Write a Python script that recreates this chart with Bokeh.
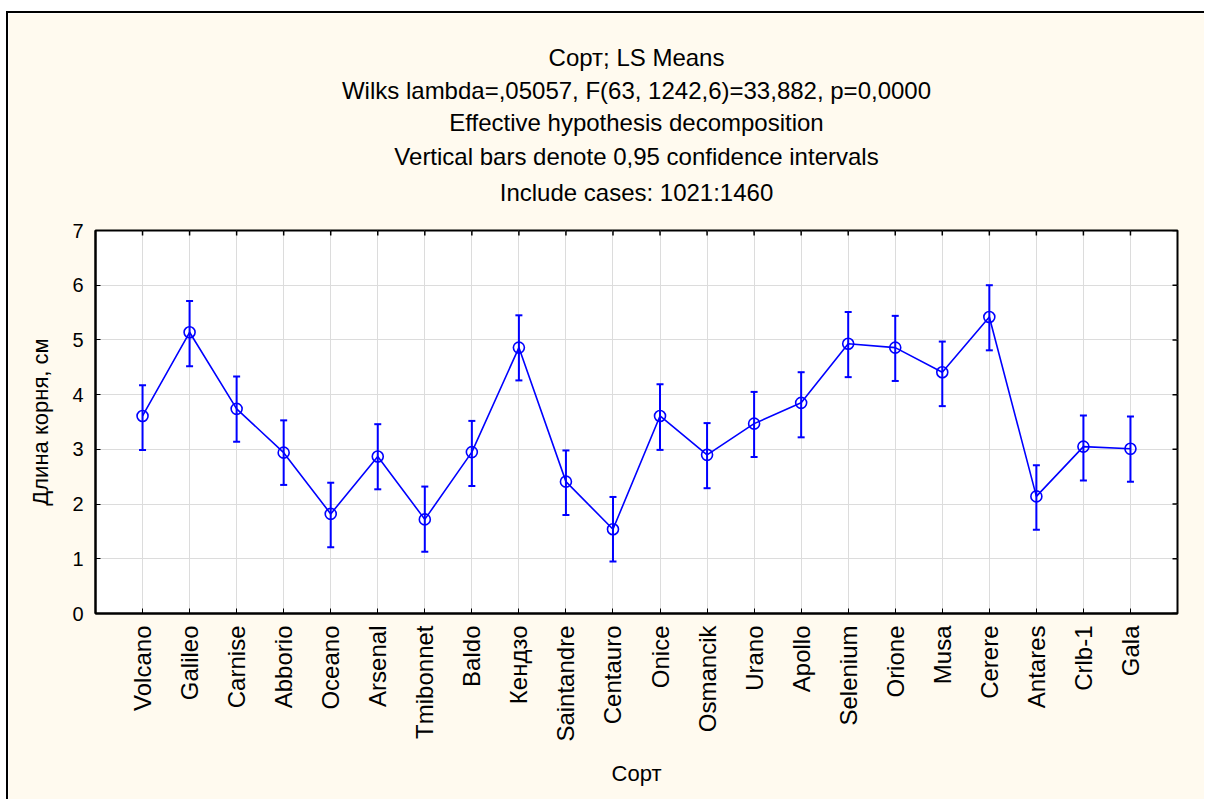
import math
from bokeh.plotting import figure
from bokeh.models import (Range1d, FixedTicker, Title, Whisker, TeeHead, ColumnDataSource,
                          LinearAxis)
from bokeh.embed import file_html
from bokeh.resources import INLINE

# ---- data ----
sorts = ["Volcano", "Galileo", "Carnise", "Abborio", "Oceano", "Arsenal", "Tmibonnet",
         "Baldo", "Кендзо", "Saintandre", "Centauro", "Onice", "Osmancik", "Urano",
         "Apollo", "Selenium", "Orione", "Musa", "Cerere", "Antares", "Crlb-1", "Gala"]
means = [3.61, 5.14, 3.74, 2.94, 1.82, 2.87, 1.72, 2.95, 4.86, 2.41, 1.54,
         3.61, 2.90, 3.47, 3.85, 4.93, 4.86, 4.41, 5.42, 2.14, 3.05, 3.01]
lower = [2.99, 4.52, 3.14, 2.35, 1.21, 2.27, 1.13, 2.33, 4.26, 1.80, 0.95,
         2.99, 2.29, 2.86, 3.22, 4.32, 4.25, 3.79, 4.81, 1.53, 2.43, 2.41]
upper = [4.17, 5.71, 4.33, 3.53, 2.39, 3.46, 2.32, 3.52, 5.45, 2.98, 2.13,
         4.19, 3.48, 4.05, 4.41, 5.51, 5.44, 4.97, 6.00, 2.71, 3.62, 3.60]
y_ticks = [0, 1, 2, 3, 4, 5, 6, 7]
title_lines = ["Сорт; LS Means",
               "Wilks lambda=,05057, F(63, 1242,6)=33,882, p=0,0000",
               "Effective hypothesis decomposition",
               "Vertical bars denote 0,95 confidence intervals",
               "Include cases: 1021:1460"]
x_label = "Сорт"
y_label = "Длина корня, см"

FONT = "Liberation Sans"
BG = "#FFFAEF"
BLUE = "#0000FF"

xs = list(range(len(sorts)))
src = ColumnDataSource(dict(x=xs, mean=means, lower=lower, upper=upper))

x_lo, x_hi = -1, len(sorts)
y_lo, y_hi = y_ticks[0], y_ticks[-1]

p = figure(width=1198, height=788, output_backend="svg", toolbar_location=None,
           x_range=Range1d(x_lo, x_hi), y_range=Range1d(y_lo, y_hi),
           min_border_left=87, min_border_right=29, min_border_top=217,
           min_border_bottom=188)
p.styles = {"border-top": "2px solid #000", "border-left": "2px solid #000",
            "margin-left": "6px", "margin-top": "11px"}
p.background_fill_color = "white"
p.border_fill_color = BG
p.outline_line_color = "black"
p.outline_line_width = 2

xt = FixedTicker(ticks=xs)
yt = FixedTicker(ticks=y_ticks)

ax = p.xaxis[0]
ax.ticker = xt
ax.major_label_overrides = {i: s for i, s in enumerate(sorts)}
ax.major_label_orientation = math.pi / 2
ax.major_label_text_font = FONT
ax.major_label_text_font_size = "24px"
ax.major_label_text_color = "black"
ax.major_label_standoff = 12
ax.major_tick_in = 5
ax.major_tick_out = 0
ax.minor_tick_line_color = None
ax.axis_line_width = 2
ax.axis_label = x_label
ax.axis_label_text_font = FONT
ax.axis_label_text_font_size = "22px"
ax.axis_label_text_font_style = "normal"
ax.axis_label_text_color = "black"
ax.axis_label_standoff = 16

ay = p.yaxis[0]
ay.ticker = yt
ay.major_label_text_font = FONT
ay.major_label_text_font_size = "20px"
ay.major_label_text_color = "black"
ay.major_label_standoff = 12
ay.major_tick_in = 5
ay.major_tick_out = 0
ay.minor_tick_line_color = None
ay.axis_line_width = 2
ay.axis_label = y_label
ay.axis_label_text_font = FONT
ay.axis_label_text_font_size = "22px"
ay.axis_label_text_font_style = "normal"
ay.axis_label_text_color = "black"
ay.axis_label_standoff = 16

p.xgrid.ticker = xt
p.ygrid.ticker = yt
p.xgrid.grid_line_color = "#DCDCDC"
p.ygrid.grid_line_color = "#DCDCDC"

# mirrored inner ticks on the top and right edges (dash markers clipped by the frame)
p.scatter(x=xs, y=[y_hi] * len(xs), marker="dash", angle=math.pi / 2, size=10,
          line_color="black", line_width=1.5)
p.scatter(x=[x_hi] * len(y_ticks), y=y_ticks, marker="dash", size=10,
          line_color="black", line_width=1.5)

# last title line carried by a tick-less top axis (gives the gap above the frame)
top_axis = LinearAxis(ticker=FixedTicker(ticks=[]), major_tick_out=0, major_tick_in=0,
                      axis_line_color=None, major_tick_line_color=None,
                      minor_tick_line_color=None,
                      axis_label=title_lines[-1], axis_label_text_font=FONT,
                      axis_label_text_font_size="24px", axis_label_text_font_style="normal",
                      axis_label_text_color="black", axis_label_standoff=25)
p.add_layout(top_axis, "above")

# remaining title lines (bottom-most added first)
standoffs = [2, 6, 0, 11]
for t, s in zip(reversed(title_lines[:-1]), reversed(standoffs)):
    p.add_layout(Title(text=t, align="center", text_font=FONT, text_font_size="24px",
                       text_font_style="normal", text_color="black", standoff=s), "above")

# data
p.line("x", "mean", source=src, line_color=BLUE, line_width=1.6)
p.add_layout(Whisker(base="x", upper="upper", lower="lower", source=src,
                     line_color=BLUE, line_width=2,
                     upper_head=TeeHead(size=7, line_color=BLUE, line_width=2),
                     lower_head=TeeHead(size=7, line_color=BLUE, line_width=2)))
p.scatter("x", "mean", source=src, marker="circle", size=11, line_color=BLUE,
          line_width=1.6, fill_color=None)

open("out.html", "w").write(file_html(p, INLINE))
